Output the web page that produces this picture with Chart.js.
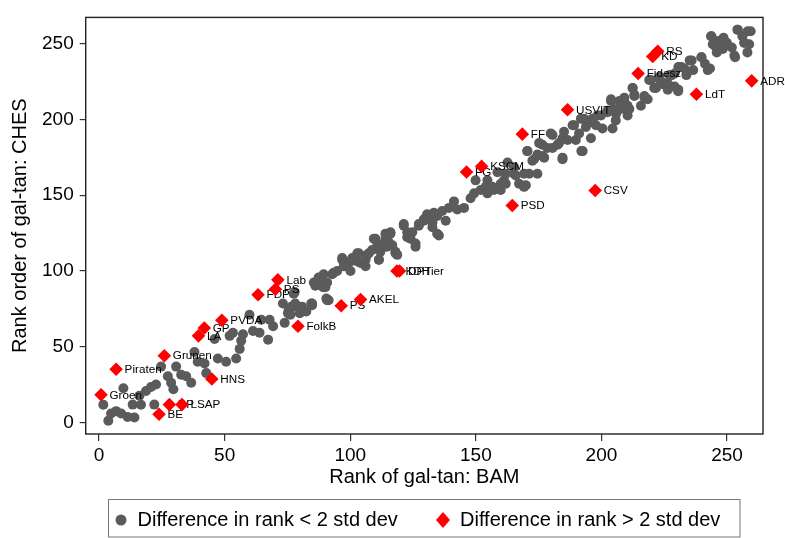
<!DOCTYPE html>
<html>
<head>
<meta charset="utf-8">
<script src="https://cdn.jsdelivr.net/npm/chart.js@4.4.1/dist/chart.umd.min.js"></script>
<style>
  html, body { margin: 0; padding: 0; background: #fff; }
</style>
</head>
<body>
<canvas id="chart" width="785" height="538"></canvas>
<script>
// --- datos ---
// partidos con diferencia de rango < 2 desv. est. (grises)
const grayX = [1.7, 3.7, 4.8, 6.8, 9.7, 8.8, 11.4, 14.1, 13.4, 16.7, 16.1, 18.7, 20.7, 22.7, 22, 24.7, 27.4, 29.6, 28.7, 30.7,
  32.7, 34.7, 36.7, 38, 39.3, 42, 42.7, 47.3, 50.6, 54.6, 52, 53.3, 56.6, 57.3, 46, 56, 59.9, 61.3, 63.9, 67.3,
  64.6, 67.9, 69.3, 73.9, 73.2, 75.2, 76.6, 78.5, 79.9, 82.5, 84.5, 77.9, 86.5, 89.2, 90.5,
  84.8, 86.1, 88.1, 90.8, 90.1, 92.8, 94.8, 96.8, 97.4, 100.1, 100.8, 102.8, 103.4, 106.1, 106.7, 108.7, 110, 111.4, 112.7, 114,
  115.3, 116, 118, 121.3, 122.7, 124.7, 126, 127.3, 129.3, 131.3, 132.7, 134.6, 135.3, 136.6, 138, 139.3, 141.3, 142.6, 145.3, 147.9,
  149.3, 149.9, 151.9, 153.9, 154.6, 156.6, 158.6, 159.9, 161.2, 162.6, 165.2, 167.2,
  161.9, 165.9, 169.9, 171.2, 170.5, 172.5, 174.5, 174.5, 176.5, 177.2, 179.8, 180.5, 182.5, 184.5, 184.5, 186.5, 188.5, 189.8, 192.5, 191.8,
  193.8, 195.8, 196.4, 197.8, 199.8, 200.4, 202.4, 203.8, 204.4, 205.8, 207.1, 209.1, 210.4, 211.1, 212.4, 213.1, 215.7, 217.1, 218.4, 219.8,
  221.7, 223.1, 225.1, 226.4, 227.1, 229.1, 230.5, 229.1, 231.8, 233.8, 235.1, 236.5, 239.8, 241.2, 243.2, 243.8, 245.2, 245.9, 248.6, 249.9,
  251.9, 253.2, 254.1, 256.1, 256.8, 258.1, 259.4, 258.8, 246.5,
  85.5, 87.4, 89.4, 90.8, 93.4, 96.8, 98.1, 100.1, 102.8, 104.1, 106.1, 107.4, 109.4, 110.8, 112, 111.4, 114, 114.6, 116, 116.7,
  118, 118.7, 121.3, 122.7, 124, 126, 127.3, 129.3, 130.6, 132.7, 133.3, 134.6, 75.5, 78.1, 80.8, 84.8, 91.4, 77.5, 76.2,
  243.6, 247.6, 254.3, 258.2, 256.9, 252.9, 248.3, 244.3, 239.8, 235.9, 233, 242.3, 230.6, 228, 226.3, 230.6, 221, 223.7, 219, 212.4,
  213.1, 217.1, 209.1, 203.8, 205, 210.4, 207.7, 202.4, 205.7, 198.4, 195.8, 193.1, 189.1, 191.1, 185.1, 180.5, 183.1, 178.5, 175.2, 170.5,
  176.5, 184.5, 173.2, 165.2, 169.2, 161.9, 169.2, 159.9, 157.2, 154.6, 192];
const grayY = [11.6, 1.0, 5.8, 7.4, 22.5, 5.8, 3.6, 3.2, 11.7, 11.6, 17.5, 20.7, 23.3, 25, 11.7, 36.8, 30.4, 21.8, 26.1, 36.8,
  31.4, 30.4, 26.1, 46.4, 40, 38.9, 32.5, 42.1, 40, 42.1, 57.1, 59.2, 53.9, 58.2, 55, 48.5, 71, 60.3, 59.2, 54.6,
  67.8, 67.8, 63.5, 65.7, 78.5, 72.1, 76.4, 76.4, 72.1, 73.2, 78.5, 86, 91.3, 89.2, 81.7,
  77.4, 90.2, 92.4, 80.6, 89.2, 97.8, 99.9, 107.4, 103.1, 99.9, 108.5, 106.3, 111.7, 103.1, 110.6, 113.8, 121.3, 107.4, 115.9, 124.5,
  119.1, 125.5, 111.7, 130.9, 122.3, 125.5, 115.9, 130.9, 133.1, 135.2, 128.8, 136.3, 123.4, 139.5, 133.1, 141.6, 145.9, 140.6, 141.6, 148,
  151.2, 159.8, 153.4, 155.5, 159.8, 155.5, 165.1, 153.4, 159.8, 171.6, 164.1, 157.6,
  157.6, 163, 156.6, 164.1, 179.1, 172.7, 164.1, 176.9, 183.3, 174.8, 190.8, 181.2, 183.3, 174.8, 187.6, 186.5, 196.2, 186.5, 179.1, 200.4,
  195.1, 187.6, 200.4, 196.2, 202.6, 194, 204.8, 212.2, 194, 203.6, 212.2, 214.4, 202.6, 206.9, 220.8, 216.5, 209, 215.5, 213.4, 226.1,
  220.8, 228.2, 222.9, 219.7, 229.3, 221.8, 218.6, 230.4, 234.7, 229.3, 239, 232.6, 241.1, 236.8, 233.6, 255, 248.6, 244.3, 253.9, 250.7,
  247.5, 241.1, 259.3, 255, 250.7, 244.3, 258.2, 249.7, 251.8,
  92.4, 95.6, 97.8, 92.4, 98.8, 108.5, 103.1, 106.3, 111.7, 105.3, 107.4, 111.7, 121.3, 118.1, 112.7, 107.4, 121.3, 115.9, 124.5, 117,
  112.7, 110.6, 129.8, 125.5, 121.3, 118.1, 129.8, 134.1, 137.4, 132, 138.4, 124.5, 74.2, 78.5, 76.4, 78.5, 80.6, 84.9, 71,
  255, 251.8, 259.3, 258.2, 250.7, 242.2, 246.5, 249.7, 241.1, 239, 233.6, 232.6, 234.7, 229.3, 224, 219.7, 220.8, 225, 226.1, 220.8,
  215.5, 214.4, 212.2, 213.3, 206.9, 209, 206.9, 205.8, 199.4, 202.6, 198.3, 200.4, 196.2, 190.8, 191.9, 189.7, 184.4, 181.2, 184.4, 179.1,
  175.9, 173.7, 173.7, 168.4, 164.1, 164.1, 155.5, 157.6, 153.4, 151.2, 179.1];

// partidos con diferencia de rango > 2 desv. est. (rojos, con etiqueta)
const redLabels = ['Groen', 'Piraten', 'Grunen', 'BE', 'DP', 'LSAP', 'HNS', 'LA', 'GP', 'PVDA', 'FDP', 'PS', 'Lab', 'FolkB', 'PS', 'AKEL',
  'KDH', 'DPTier', 'FG', 'KSCM', 'PSD', 'CSV', 'FF', 'USVIT', 'Fidesz', 'KD', 'RS', 'LdT', 'ADR'];
const redX = [0.8, 6.8, 26, 23.9, 28, 33, 44.9, 39.6, 41.9, 48.9, 63.3, 70.2, 71.2, 79.2, 96.4, 104.1,
  118.6, 119.6, 146.3, 152.3, 164.5, 197.5, 168.5, 186.5, 214.6, 220.4, 222.4, 237.8, 259.8];
const redY = [18.2, 35.1, 44, 5.3, 11.7, 11.7, 28.6, 57.1, 62.3, 67.4, 84.3, 87.9, 94.1, 63.5, 77, 81.1,
  99.9, 99.9, 165.3, 169, 143.2, 153.1, 190.3, 206.4, 230.4, 241.6, 245, 216.7, 225.5];

const xTickValues = [0, 50, 100, 150, 200, 250];
const yTickValues = [0, 50, 100, 150, 200, 250];

const GRIS = '#5b5b5b';
const ROJO = '#ff0000';
const FUENTE = '"Liberation Sans", Arial, Helvetica, sans-serif';

const puntosGris = grayX.map((x, i) => ({ x: x, y: grayY[i] }));
const puntosRojo = redX.map((x, i) => ({ x: x, y: redY[i] }));

// etiquetas de los rombos rojos: se dibujan antes de los rombos (como en Stata)
const etiquetasPlugin = {
  id: 'etiquetas',
  beforeDatasetDraw(chart, args) {
    if (args.index !== 1) return;
    const ctx = chart.ctx;
    ctx.save();
    ctx.font = '11.7px ' + FUENTE;
    ctx.fillStyle = '#000';
    ctx.textBaseline = 'middle';
    ctx.textAlign = 'left';
    args.meta.data.forEach((p, i) => {
      ctx.fillText(redLabels[i], p.x + 8.5, p.y + 0.5);
    });
    ctx.restore();
  }
};

// marco del área del gráfico y leyenda con recuadro
const marcoPlugin = {
  id: 'marco',
  afterDraw(chart) {
    const ctx = chart.ctx;
    const a = chart.chartArea;
    ctx.save();
    ctx.strokeStyle = '#222';
    ctx.lineWidth = 1.4;
    ctx.strokeRect(a.left, a.top, a.right - a.left, a.bottom - a.top);

    // leyenda
    ctx.strokeStyle = '#777';
    ctx.lineWidth = 1;
    ctx.strokeRect(108.5, 499.5, 631.5, 37.5);
    ctx.fillStyle = GRIS;
    ctx.beginPath();
    ctx.arc(121, 520, 5.5, 0, Math.PI * 2);
    ctx.fill();
    ctx.fillStyle = ROJO;
    ctx.beginPath();
    ctx.moveTo(443, 512);
    ctx.lineTo(450, 520);
    ctx.lineTo(443, 528);
    ctx.lineTo(436, 520);
    ctx.closePath();
    ctx.fill();
    ctx.fillStyle = '#000';
    ctx.font = '20px ' + FUENTE;
    ctx.textBaseline = 'middle';
    ctx.fillText('Difference in rank < 2 std dev', 137.5, 520);
    ctx.fillText('Difference in rank > 2 std dev', 460, 520);
    ctx.restore();
  }
};

new Chart(document.getElementById('chart').getContext('2d'), {
  type: 'scatter',
  data: {
    datasets: [
      {
        label: 'Difference in rank < 2 std dev',
        data: puntosGris,
        backgroundColor: GRIS,
        borderWidth: 0,
        pointRadius: 5,
        pointStyle: 'circle',
        order: 2
      },
      {
        label: 'Difference in rank > 2 std dev',
        data: puntosRojo,
        backgroundColor: ROJO,
        borderWidth: 0,
        pointRadius: 6.8,
        pointStyle: 'rectRot',
        order: 1
      }
    ]
  },
  options: {
    responsive: false,
    animation: false,
    devicePixelRatio: 1,
    events: [],
    layout: { padding: { left: 0, right: 22, top: 5.7, bottom: 49 } },
    plugins: {
      legend: { display: false },
      tooltip: { enabled: false }
    },
    scales: {
      x: {
        type: 'linear',
        min: -5.3,
        max: 264.3,
        afterBuildTicks: s => { s.ticks = xTickValues.map(v => ({ value: v })); },
        afterFit: s => { s.height = 55; },
        border: { display: false },
        grid: { drawOnChartArea: false, drawTicks: true, tickLength: 7, color: '#333', lineWidth: 1.2 },
        ticks: { color: '#000', padding: 3, maxRotation: 0, font: { family: FUENTE, size: 19 } },
        title: {
          display: true,
          text: 'Rank of gal-tan: BAM',
          color: '#000',
          padding: { top: 2, bottom: 0 },
          font: { family: FUENTE, size: 20, lineHeight: 1.2 }
        }
      },
      y: {
        type: 'linear',
        min: -7.7,
        max: 267.4,
        afterBuildTicks: s => { s.ticks = yTickValues.map(v => ({ value: v })); },
        afterFit: s => { s.width = 85.7; },
        border: { display: false },
        grid: { drawOnChartArea: false, drawTicks: true, tickLength: 6, color: '#333', lineWidth: 1.2 },
        ticks: { color: '#000', padding: 6, font: { family: FUENTE, size: 19 } },
        title: {
          display: true,
          text: 'Rank order of gal-tan: CHES',
          color: '#000',
          padding: { top: 8, bottom: 0 },
          font: { family: FUENTE, size: 20, lineHeight: 1.2 }
        }
      }
    }
  },
  plugins: [etiquetasPlugin, marcoPlugin]
});
</script>
</body>
</html>
